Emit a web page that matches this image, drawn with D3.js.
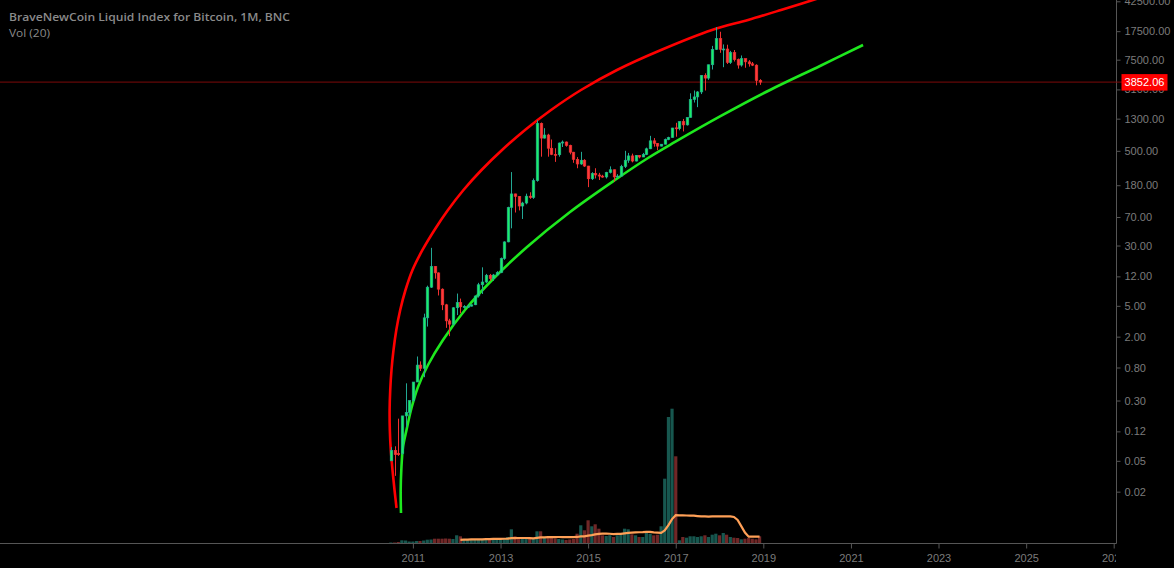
<!DOCTYPE html>
<html><head><meta charset="utf-8">
<script src="https://cdn.jsdelivr.net/npm/d3@7/dist/d3.min.js"></script>
<style>html,body{margin:0;padding:0;background:#000;overflow:hidden}</style>
</head><body>
<svg id="chart" width="1174" height="568"></svg>
<script>
// ---------- DATA ----------
const titleText = "BraveNewCoin Liquid Index for Bitcoin, 1M, BNC";
const volTitle = "Vol (20)";
const lastPrice = 3852.06;

const months = [
"2010-07","2010-08","2010-09","2010-10","2010-11","2010-12",
"2011-01","2011-02","2011-03","2011-04","2011-05","2011-06","2011-07","2011-08","2011-09","2011-10","2011-11","2011-12",
"2012-01","2012-02","2012-03","2012-04","2012-05","2012-06","2012-07","2012-08","2012-09","2012-10","2012-11","2012-12",
"2013-01","2013-02","2013-03","2013-04","2013-05","2013-06","2013-07","2013-08","2013-09","2013-10","2013-11","2013-12",
"2014-01","2014-02","2014-03","2014-04","2014-05","2014-06","2014-07","2014-08","2014-09","2014-10","2014-11","2014-12",
"2015-01","2015-02","2015-03","2015-04","2015-05","2015-06","2015-07","2015-08","2015-09","2015-10","2015-11","2015-12",
"2016-01","2016-02","2016-03","2016-04","2016-05","2016-06","2016-07","2016-08","2016-09","2016-10","2016-11","2016-12",
"2017-01","2017-02","2017-03","2017-04","2017-05","2017-06","2017-07","2017-08","2017-09","2017-10","2017-11","2017-12",
"2018-01","2018-02","2018-03","2018-04","2018-05","2018-06","2018-07","2018-08","2018-09","2018-10","2018-11","2018-12"];

const openP = [
0.05,0.068,0.062,0.062,0.19,0.21,
0.30,0.52,0.86,0.78,3.50,8.70,16.1,13.3,8.2,5.15,3.2,2.9,
4.72,5.5,4.86,4.9,4.95,5.16,6.7,9.35,10.15,12.4,11.2,12.5,
13.45,20.4,33.4,93,139,129,97,106,130,125,206,1130,
730,800,540,450,445,630,650,586,480,387,338,378,
318,218,255,244,236,230,263,285,230,236,314,378,
430,369,437,416,448,531,673,624,575,609,698,742,
990,965,1190,1080,1348,2300,2480,2875,4700,4340,6450,10200,
14000,10200,10300,6900,9240,7500,6390,7730,7030,6630,6370,4040];

const highP = [
0.075,0.077,0.175,0.19,0.50,0.30,
0.52,1.11,0.96,3.96,9.10,28.0,16.3,13.5,8.4,5.3,3.4,4.8,
7.2,6.2,5.1,5.2,5.2,6.8,9.9,15.7,12.9,12.9,12.9,14.0,
21.0,34.0,95,266,140,130,110,140,146,220,1240,1160,
980,830,700,540,640,680,660,600,485,415,485,390,
320,265,298,260,245,268,315,287,250,330,500,470,
460,440,440,470,550,780,730,630,610,720,760,990,
1150,1200,1290,1350,2760,3000,2950,4750,5000,6470,11300,19700,
17200,11800,11700,9750,9990,7760,8500,7750,7400,7000,6550,4200];

const lowP = [
0.05,0.032,0.058,0.06,0.135,0.19,
0.29,0.52,0.72,0.60,2.70,8.50,11.2,6.8,4.4,2.6,2.03,2.8,
3.8,4.0,4.6,4.7,4.9,5.1,6.4,7.1,9.8,10.5,10.5,12.3,
13.2,19.6,33,50,80,85,66,102,120,120,200,420,
720,420,440,360,420,560,565,450,350,298,330,310,
170,210,220,210,225,220,255,200,225,235,300,350,
355,365,400,415,440,525,565,510,570,605,685,740,
760,920,890,1060,1340,2100,1830,2700,3000,4120,5600,10000,
9200,6000,6600,6600,7100,5750,6100,5900,6100,6200,3500,3550];

const closeP = [
0.068,0.06,0.06,0.19,0.21,0.30,
0.52,0.86,0.78,3.50,8.70,16.1,13.3,8.2,5.15,3.2,2.9,4.72,
5.5,4.86,4.9,4.95,5.16,6.7,9.35,10.15,12.4,11.2,12.5,13.45,
20.4,33.4,93,139,129,97,106,130,125,206,1130,730,
800,540,450,445,630,650,586,480,387,338,378,318,
218,255,244,236,230,263,285,230,236,314,378,430,
369,437,416,448,531,673,624,575,609,698,742,985,
965,1190,1080,1348,2300,2480,2875,4700,4340,6450,10200,14000,
10200,10300,6900,9240,7500,6390,7730,7030,6630,6370,4040,3852.06];

// volume, thousands of units
const volumeK = [
0.5,0.5,1,2.7,2.5,1.5,
1.5,2,2,2.5,3.3,3.5,4.3,4.3,4.3,4.5,4.3,4,
7.7,6.7,3.5,3,3,3,3,3.5,3.5,4.5,4.5,4,
4.5,5,6,13.7,6.7,6,4.5,4,4,4.5,11.7,11.7,
5,6,5,4.5,4,3.5,3,3.5,4,9.3,17.7,12.7,
22.7,16.7,18.7,14.3,7.7,7,7.7,6,7.7,8.7,14.3,13.7,
8.7,7.7,6,6,10,9.3,7.7,8.3,16.7,64.3,126,134.3,
86.7,2.7,6,5.3,6.7,6.7,6,6.7,7.7,6,8.3,9.3,
7.7,10,8.3,6,5.3,5,3.7,4.3,5,4.3,3.7,6.7];

// hand-drawn growth curves, [decimal year, price]
const redCurve = [
[2010.626,0.01231],[2010.580,0.02102],[2010.534,0.03807],[2010.495,0.0690],[2010.473,0.1250],
[2010.468,0.2263],[2010.482,0.4101],[2010.511,0.7430],[2010.557,1.346],[2010.621,2.438],
[2010.710,4.418],[2010.831,8.003],[2010.991,14.50],[2011.219,26.27],[2011.493,47.59],
[2011.801,86.2],[2012.155,156.2],[2012.566,282.9],[2013.034,512.5],[2013.559,928.5],
[2014.153,1682],[2014.838,3047],[2015.660,5521],[2016.664,10000],[2017.829,18120],
[2018.651,24390],[2019.404,32820],[2020.135,44190],[2020.865,59460]];

const greenCurve = [
[2010.728,0.0106],[2010.721,0.0210],[2010.735,0.0381],[2010.774,0.0754],[2010.854,0.125],
[2010.968,0.240],[2011.116,0.449],[2011.345,0.862],[2011.687,1.81],[2012.189,4.42],
[2012.829,11.1],[2013.605,28.7],[2014.587,81.2],[2015.614,210],[2016.368,404],
[2016.984,650],[2018.011,1387],[2019.153,3048],[2020.295,6220],[2021.276,11610]];

const priceTicks = [42500,17500,7500,3100,1300,500,180,70,30,12,5,2,0.8,0.3,0.12,0.05,0.02];
const yearTicks = [2011,2013,2015,2017,2019,2021,2023,2025,2027];

// ---------- LAYOUT ----------
const W = 1174, H = 568;
const plotR = 1116, plotB = 543;
const parseMonth = d3.timeParse("%Y-%m");
const dates = months.map(parseMonth);
const yearToDate = v => {
  const yr = Math.floor(v), a = new Date(yr,0,1), b = new Date(yr+1,0,1);
  return new Date(+a + (v-yr)*(b-a));
};

const x = d3.scaleTime().domain([new Date(2011,0,1), new Date(2019,0,1)]).range([412.9, 763.3]);
const y = d3.scaleLog().domain([44167, 0.004352]).range([0, plotB]);
const yv = d3.scaleLinear().domain([0, 140]).range([plotB, plotB-140]);

const svg = d3.select("#chart");
svg.append("rect").attr("width",W).attr("height",H).attr("fill","#000");

const defs = svg.append("defs");
defs.append("clipPath").attr("id","plotClip").append("rect").attr("x",0).attr("y",0).attr("width",plotR).attr("height",plotB);

const plot = svg.append("g").attr("clip-path","url(#plotClip)");

const upFill="#19f068", upStroke="#22a894", dnFill="#ff3a3a", dnStroke="#f03030";
const volUp="#17574f", volDn="#702727";

// volume bars
const bars = d3.range(months.length).map(i => ({d:dates[i], o:openP[i], h:highP[i], l:lowP[i], c:closeP[i], v:volumeK[i]}));
plot.append("g").selectAll("rect").data(bars).join("rect")
  .attr("x", d => x(d.d)-1.6).attr("width", 3.2)
  .attr("y", d => yv(d.v)).attr("height", d => plotB - yv(d.v))
  .attr("fill", d => d.c >= d.o ? volUp : volDn);

// 20-period moving average of volume
const ma = [];
for (let i = 19; i < bars.length; i++) ma.push({d:bars[i].d, v:d3.mean(volumeK.slice(i-19,i+1))});
plot.append("path").datum(ma)
  .attr("d", d3.line().x(d=>x(d.d)).y(d=>yv(d.v)))
  .attr("fill","none").attr("stroke","#ffa057").attr("stroke-width",2.2);

// price line
plot.append("line").attr("x1",0).attr("x2",plotR).attr("y1",y(lastPrice)).attr("y2",y(lastPrice))
  .attr("stroke","#7d0a0a").attr("stroke-width",1);

// curves
const cl = d3.line().x(d=>x(yearToDate(d[0]))).y(d=>y(d[1])).curve(d3.curveCatmullRom.alpha(0.5));
plot.append("path").datum(redCurve).attr("d",cl).attr("fill","none").attr("stroke","#ff0000").attr("stroke-width",2.6);
plot.append("path").datum(greenCurve).attr("d",cl).attr("fill","none").attr("stroke","#1ee81e").attr("stroke-width",2.6);

// candles
const cg = plot.append("g");
bars.forEach(d => {
  const up = d.c >= d.o, cx = Math.round(x(d.d)) + 0.5;
  cg.append("line").attr("x1",cx).attr("x2",cx).attr("y1",y(d.h)).attr("y2",y(d.l))
    .attr("stroke", up?upStroke:dnStroke).attr("stroke-width",1);
  const t = y(Math.max(d.o,d.c)), b = y(Math.min(d.o,d.c));
  cg.append("rect").attr("x",cx-1.3).attr("width",2.6).attr("y",t).attr("height",Math.max(1,b-t))
    .attr("fill", up?upFill:dnFill).attr("stroke", up?upStroke:dnStroke).attr("stroke-width",0.6);
});

// axes
const axisCol = "#555", textCol = "#7b7b7b";
svg.append("line").attr("x1",plotR+0.5).attr("x2",plotR+0.5).attr("y1",0).attr("y2",plotB+0.5).attr("stroke",axisCol);
svg.append("line").attr("x1",0).attr("x2",plotR+0.5).attr("y1",plotB+0.5).attr("y2",plotB+0.5).attr("stroke",axisCol);

const ya = svg.append("g").attr("transform",`translate(${plotR+0.5},0)`)
  .call(d3.axisRight(y).tickValues(priceTicks).tickFormat(d3.format(".2f")).tickSize(4).tickPadding(4));
ya.select(".domain").remove();
ya.selectAll(".tick line").attr("stroke",axisCol);
ya.selectAll("text").attr("fill",textCol).style("font","11px 'Liberation Sans', Arial, sans-serif");

defs.append("clipPath").attr("id","xClip").append("rect").attr("x",0).attr("y",plotB).attr("width",plotR).attr("height",H-plotB);
const xa = svg.append("g").attr("clip-path","url(#xClip)").append("g").attr("transform",`translate(0,${plotB+0.5})`)
  .call(d3.axisBottom(x).tickValues(yearTicks.map(v=>new Date(v,0,1))).tickFormat(d3.timeFormat("%Y")).tickSize(5).tickPadding(6));
xa.select(".domain").remove();
xa.selectAll(".tick line").attr("stroke",axisCol);
xa.selectAll("text").attr("fill",textCol).style("font","11px 'Liberation Sans', Arial, sans-serif");

// last price label
const py = y(lastPrice);
svg.append("line").attr("x1",plotR).attr("x2",1122).attr("y1",py).attr("y2",py).attr("stroke","#7d0a0a");
svg.append("rect").attr("x",1121.5).attr("y",py-8).attr("width",46).attr("height",16.5).attr("fill","#ff0000");
svg.append("text").attr("x",1144.5).attr("y",py+4).attr("text-anchor","middle").attr("fill","#fff")
  .style("font","11px 'Liberation Sans', Arial, sans-serif").text(d3.format(".2f")(lastPrice));

// titles
svg.append("text").attr("x",9).attr("y",20.5).attr("fill","#8a8a8a")
  .attr("textLength",281).attr("lengthAdjust","spacingAndGlyphs")
  .style("font","600 11.5px 'Open Sans', sans-serif").text(titleText);
svg.append("text").attr("x",9).attr("y",37).attr("fill","#8a8a8a")
  .attr("textLength",41).attr("lengthAdjust","spacingAndGlyphs")
  .style("font","11.5px 'Open Sans', sans-serif").text(volTitle);
</script>
</body></html>
